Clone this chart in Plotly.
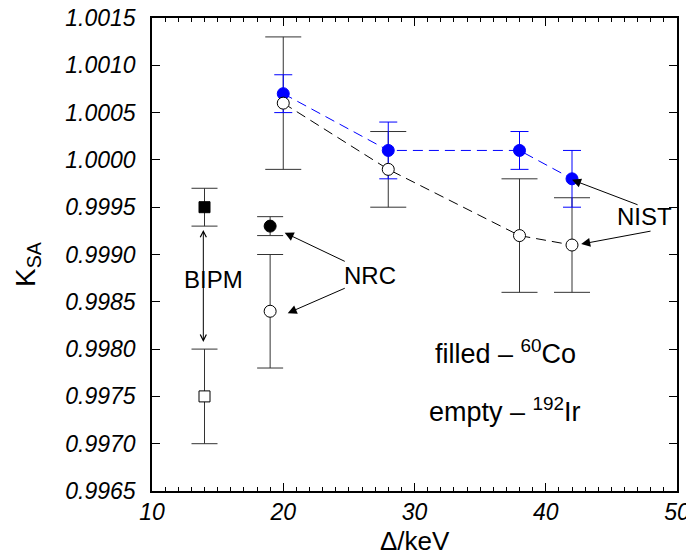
import plotly.graph_objects as go

# ---- data ----
bipm_x = [14]
bipm_co = [0.9995]
bipm_co_err = [0.0002]
bipm_ir = [0.9975]
bipm_ir_err = [0.0005]

nrc_x = [19]
nrc_co = [0.9993]
nrc_co_err = [0.0001]
nrc_ir = [0.9984]
nrc_ir_err = [0.0006]

nist_x = [20, 28, 38, 42]
nist_co = [1.0007, 1.0001, 1.0001, 0.9998]
nist_co_err = [0.0002, 0.0003, 0.0002, 0.0003]
nist_ir = [1.0006, 0.9999, 0.9992, 0.9991]
nist_ir_err = [0.0007, 0.0004, 0.0006, 0.0005]

y_ticks = [0.9965, 0.9970, 0.9975, 0.9980, 0.9985, 0.9990, 0.9995, 1.0000, 1.0005, 1.0010, 1.0015]
x_ticks = [10, 20, 30, 40, 50]

FONT = "Liberation Sans"
BLUE = "#0000FF"
ERRC = "#333333"

fig = go.Figure()

def err(arr, color, w):
    return dict(type="data", array=arr, visible=True, color=color, thickness=1, width=w)

# error bars + lines
fig.add_trace(go.Scatter(x=nist_x, y=nist_ir, mode="lines",
                         line=dict(color="black", width=1, dash="10px,6px"),
                         error_y=err(nist_ir_err, ERRC, 18), showlegend=False))
fig.add_trace(go.Scatter(x=nist_x, y=nist_co, mode="lines",
                         line=dict(color=BLUE, width=1, dash="10px,6px"),
                         error_y=err(nist_co_err, BLUE, 9), showlegend=False))
fig.add_trace(go.Scatter(x=bipm_x, y=bipm_co, mode="markers",
                         marker=dict(symbol="square", size=11, color="black", line=dict(color="black", width=1)),
                         error_y=err(bipm_co_err, ERRC, 13), showlegend=False))
fig.add_trace(go.Scatter(x=bipm_x, y=bipm_ir, mode="markers",
                         marker=dict(symbol="square", size=11, color="white", line=dict(color="black", width=1)),
                         error_y=err(bipm_ir_err, ERRC, 13), showlegend=False))
fig.add_trace(go.Scatter(x=nrc_x, y=nrc_co, mode="markers",
                         marker=dict(symbol="circle", size=12, color="black", line=dict(color="black", width=1)),
                         error_y=err(nrc_co_err, ERRC, 13), showlegend=False))
fig.add_trace(go.Scatter(x=nrc_x, y=nrc_ir, mode="markers",
                         marker=dict(symbol="circle", size=12, color="white", line=dict(color="black", width=1)),
                         error_y=err(nrc_ir_err, ERRC, 13), showlegend=False))
# markers on top
fig.add_trace(go.Scatter(x=nist_x, y=nist_co, mode="markers",
                         marker=dict(symbol="circle", size=12, color=BLUE, line=dict(color=BLUE, width=1)),
                         showlegend=False))
fig.add_trace(go.Scatter(x=nist_x, y=nist_ir, mode="markers",
                         marker=dict(symbol="circle", size=12, color="white", line=dict(color="black", width=1)),
                         showlegend=False))

ann = []
txtfont = dict(family=FONT, size=24, color="black")
bigfont = dict(family=FONT, size=27, color="black")
# text labels
ann.append(dict(x=14.69, y=0.99874, text="BIPM", showarrow=False, font=txtfont))
ann.append(dict(x=26.58, y=0.99878, text="NRC", showarrow=False, font=txtfont))
ann.append(dict(x=47.49, y=0.99940, text="NIST", showarrow=False, font=txtfont))
ann.append(dict(x=36.9, y=0.99797, text="filled \u2013 <sup>60</sup>Co", showarrow=False, font=bigfont))
ann.append(dict(x=36.9, y=0.99736, text="empty \u2013 <sup>192</sup>Ir", showarrow=False, font=bigfont))

def arrow(tx, ty, hx, hy, head=2, size=1.8, both=False):
    d = dict(x=hx, y=hy, ax=tx, ay=ty, axref="x", ayref="y", text="",
             showarrow=True, arrowhead=head, arrowsize=size, arrowwidth=1,
             arrowcolor="black", standoff=0, startstandoff=0)
    if both:
        d["arrowside"] = "end+start"
        d["startarrowhead"] = head
        d["startarrowsize"] = size
    return d

ann.append(arrow(13.91, 0.99806, 13.91, 0.99926, head=5, size=1.2, both=True))
ann.append(arrow(24.8, 0.99892, 20.11, 0.99923))
ann.append(arrow(24.8, 0.99865, 20.34, 0.99838))
ann.append(arrow(47.11, 0.99952, 42.0, 0.99979))
ann.append(arrow(48.1, 0.99925, 42.7, 0.99911))

# axis titles
ann.append(dict(xref="paper", yref="paper", x=-0.236, y=0.48, text="K<sub>SA</sub>",
                textangle=-90, showarrow=False, xanchor="center", yanchor="middle",
                font=dict(family=FONT, size=28, color="black")))
ann.append(dict(xref="paper", yref="paper", x=0.5, y=-0.106, text="\u0394/keV",
                showarrow=False, xanchor="center", yanchor="middle",
                font=dict(family=FONT, size=26, color="black")))

# page body has an 8px margin; compensate so the plot lands where the reference has it
fig.update_layout(
    width=686, height=548,
    margin=dict(l=144, r=17, t=10, b=65),
    paper_bgcolor="white", plot_bgcolor="white",
    font=dict(family=FONT, color="black"),
    annotations=ann,
    showlegend=False,
)
fig.update_xaxes(range=[10, 50], tickvals=x_ticks, ticks="inside", ticklen=8, tickwidth=1,
                 tickcolor="black", showline=True, linecolor="black", linewidth=1.5,
                 mirror="ticks", showgrid=False, zeroline=False, ticklabeloverflow="allow",
                 automargin=False,
                 tickfont=dict(family=FONT, size=23, style="italic", color="black"),
                 minor=dict(dtick=1, ticks="inside", ticklen=4, tickcolor="black", showgrid=False))
fig.update_yaxes(range=[0.9965, 1.0015], tickvals=y_ticks, tickformat=".4f", ticks="inside",
                 ticklen=8, tickwidth=1, tickcolor="black", showline=True, linecolor="black",
                 linewidth=1.5, mirror="ticks", showgrid=False, zeroline=False,
                 ticklabelstandoff=10, ticklabeloverflow="allow", automargin=False,
                 tickfont=dict(family=FONT, size=23, style="italic", color="black"))

fig.write_html("out.html")
